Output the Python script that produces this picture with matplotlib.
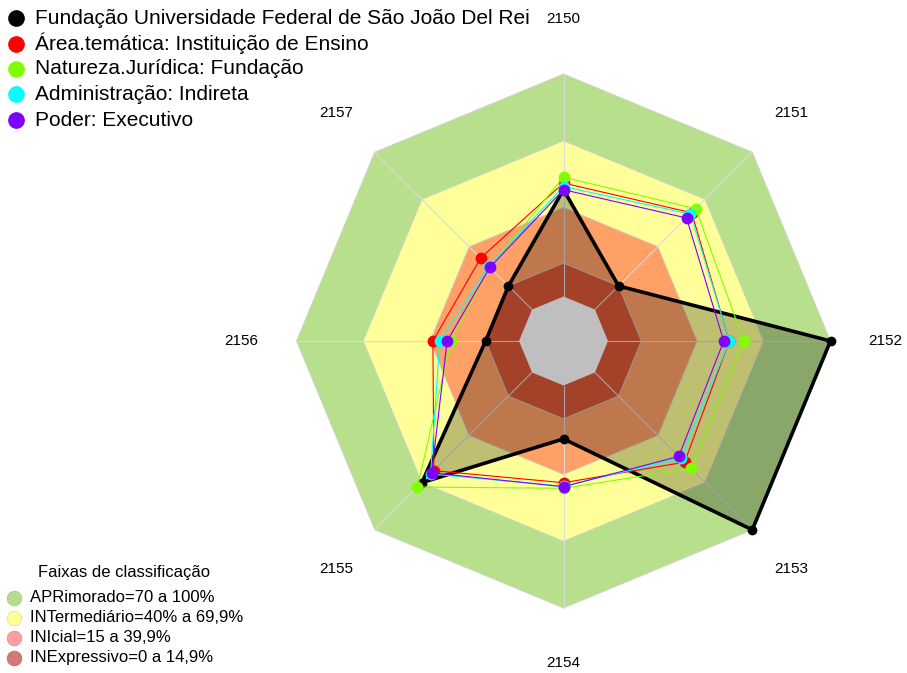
import numpy as np
import matplotlib.pyplot as plt

plt.rcParams['font.family'] = ['Liberation Sans', 'DejaVu Sans']

# axes of the radar (clockwise from the top)
axis_labels = ['2150', '2151', '2152', '2153', '2154', '2155', '2156', '2157']

# series values (% of max)
inst_vals = [48, 15, 100, 100, 24, 70, 15, 15]
area_vals = [51, 61.5, 54.5, 57, 43.7, 62.4, 38.7, 32.7]
natureza_vals = [53.6, 64.1, 61, 61, 46.2, 72.8, 30.5, 27]
admin_vals = [49.4, 60.7, 54.6, 54.5, 45.3, 64.5, 35.6, 27.5]
poder_vals = [48, 58.2, 52, 53.3, 45.5, 63.8, 32.3, 26.8]

series_names = ['Fundação Universidade Federal de São João Del Rei',
                'Área.temática: Instituição de Ensino',
                'Natureza.Jurídica: Fundação',
                'Administração: Indireta',
                'Poder: Executivo']
series_colors = ['black', '#ff0000', '#7fff00', '#00ffff', '#8000ff']

# classification bands
band_edges = [100, 70, 40, 15]
band_colors = ['#b8e08c', '#ffff99', '#ffa066', '#dc5738']
band_names = ['APRimorado=70 a 100%', 'INTermediário=40% a 69,9%',
              'INIcial=15 a 39,9%', 'INExpressivo=0 a 14,9%']
band_legend_colors = ['#b5dd8b', '#ffff99', '#ff9f9f', '#d27a7a']
band_legend_edges = ['#a8cc80', '#e6e68a', '#e89090', '#c06a6a']

# layout (pixels)
W, H = 907, 673
cx, cy, R = 563.5, 341, 267
seg = 5

n = len(axis_labels)
theta = np.pi / 2 - np.arange(n) * 2 * np.pi / n


def to_xy(vals):
    v = np.asarray(vals, dtype=float)
    r = R * (1.0 / (seg + 1) + seg / (seg + 1) * v / 100.0)
    return cx + r * np.cos(theta), cy - r * np.sin(theta)


def closed(a):
    return np.append(a, a[0])


fig = plt.figure(figsize=(W / 100, H / 100), dpi=100)
ax = fig.add_axes([0, 0, 1, 1])
ax.set_xlim(0, W)
ax.set_ylim(H, 0)
ax.axis('off')

# bands
for edge, col in zip(band_edges, band_colors):
    x, y = to_xy([edge] * n)
    ax.fill(x, y, color=col, zorder=1, lw=0)
    ax.plot(closed(x), closed(y), color='#d0d0d0', lw=0.6, zorder=2)

# spokes
xo, yo = to_xy([100] * n)
xi, yi = to_xy([0] * n)
for i in range(n):
    ax.plot([xi[i], xo[i]], [yi[i], yo[i]], color='#dadada', lw=0.8, zorder=2)

# blank centre
ax.fill(xi, yi, color='white', lw=0, zorder=2.5)

# institution polygon
x, y = to_xy(inst_vals)
ax.fill(x, y, color='black', alpha=0.25, lw=0, zorder=3)
ax.plot(closed(x), closed(y), color='black', lw=2.6, zorder=4)
ax.plot(x, y, 'o', color='black', ms=6, zorder=4)

# comparison series
others = [area_vals, natureza_vals, admin_vals, poder_vals]
for k, vals in enumerate(others):
    x, y = to_xy(vals)
    col = series_colors[k + 1]
    ax.plot(closed(x), closed(y), color=col, lw=0.8, zorder=5 + k)
    ax.plot(x, y, 'o', color=col, ms=7.5, zorder=5 + k)

# axis labels
lr = 322
for lab, t in zip(axis_labels, theta):
    ax.text(cx + lr * np.cos(t), cy - lr * np.sin(t), lab,
            ha='center', va='center', fontsize=11, zorder=10)

# series legend (top left)
leg_y = [18.3, 43.5, 68.5, 94.3, 120]
for name, col, yy in zip(series_names, series_colors, leg_y):
    ax.plot(16, yy, 'o', color=col, ms=11, zorder=10, clip_on=False)
    ax.text(35, yy, name, ha='left', va='center', fontsize=15, zorder=10)

# band legend (bottom left)
ax.text(124, 572, 'Faixas de classificação', ha='center', va='center',
        fontsize=12, zorder=10)
band_y = [598, 618, 637.5, 657.5]
for name, col, ec, yy in zip(band_names, band_legend_colors, band_legend_edges, band_y):
    ax.plot(13.5, yy, 'o', color=col, mec=ec, mew=0.6, ms=10.5, zorder=10)
    ax.text(30, yy, name, ha='left', va='center', fontsize=12, zorder=10)

fig.savefig('out.png', dpi=100)
